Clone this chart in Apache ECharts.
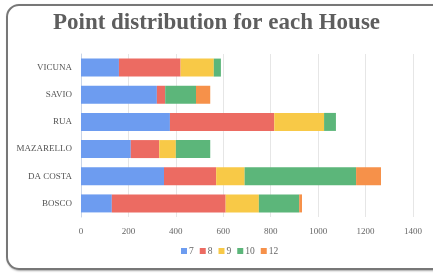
<!DOCTYPE html>
<html><head><meta charset="utf-8">
<script src="https://cdn.jsdelivr.net/npm/echarts@6/dist/echarts.min.js"></script>
<style>
html,body{margin:0;padding:0;background:#fff;overflow:hidden;}
#frame{position:absolute;left:6px;top:4px;width:440px;height:262px;border:2px solid #777;border-radius:13px;box-shadow:1px 1px 2px rgba(0,0,0,0.35);}
#c{position:absolute;left:0;top:0;width:433px;height:273px;}
</style></head>
<body>
<div id="frame"></div>
<div id="c"></div>
<script>
const categories = ['BOSCO', 'DA COSTA', 'MAZARELLO', 'RUA', 'SAVIO', 'VICUNA'];
const seriesNames = ['7', '8', '9', '10', '12'];
const s7  = [130, 350, 210, 375, 320, 160];
const s8  = [480, 220, 120, 440, 35, 260];
const s9  = [140, 120, 70, 210, 0, 140];
const s10 = [170, 470, 145, 50, 130, 30];
const s12 = [12, 105, 0, 0, 60, 0];
const xTicks = [0, 200, 400, 600, 800, 1000, 1200, 1400];
const colors = ['#6d9cf0', '#ec6b62', '#f8c947', '#5cb67a', '#f6914a'];
const values = [s7, s8, s9, s10, s12];

const chart = echarts.init(document.getElementById('c'));
const font = '"Liberation Serif", "DejaVu Serif", serif';
chart.setOption({
  animation: false,
  title: {
    text: 'Point distribution for each House',
    left: 'center', top: 7,
    textStyle: {fontFamily: font, fontSize: 23, fontWeight: 'bold', color: '#5e5e5e'}
  },
  legend: {
    bottom: 12, left: 176,
    itemWidth: 6, itemHeight: 6, itemGap: 6,
    icon: 'rect',
    textStyle: {fontFamily: font, fontSize: 9.5, color: '#666', padding: [0,0,0,-3]},
    data: seriesNames
  },
  grid: {left: 81, right: 20, top: 54, bottom: 56, containLabel: false},
  xAxis: {
    type: 'value', min: xTicks[0], max: xTicks[xTicks.length-1], interval: 200,
    axisLine: {show: false}, axisTick: {show: false},
    splitLine: {lineStyle: {color: '#e6e6e6'}},
    axisLabel: {fontFamily: font, fontSize: 9, color: '#666', margin: 10, formatter: v => String(v)}
  },
  yAxis: {
    type: 'category', data: categories,
    axisLine: {lineStyle: {color: '#c8d4e8'}}, axisTick: {show: false},
    axisLabel: {fontFamily: font, fontSize: 9, color: '#555', margin: 9}
  },
  series: seriesNames.map((n, i) => ({
    name: n, type: 'bar', stack: 'total', data: values[i],
    barWidth: 18, itemStyle: {color: colors[i]}
  }))
});
</script>
</body></html>
